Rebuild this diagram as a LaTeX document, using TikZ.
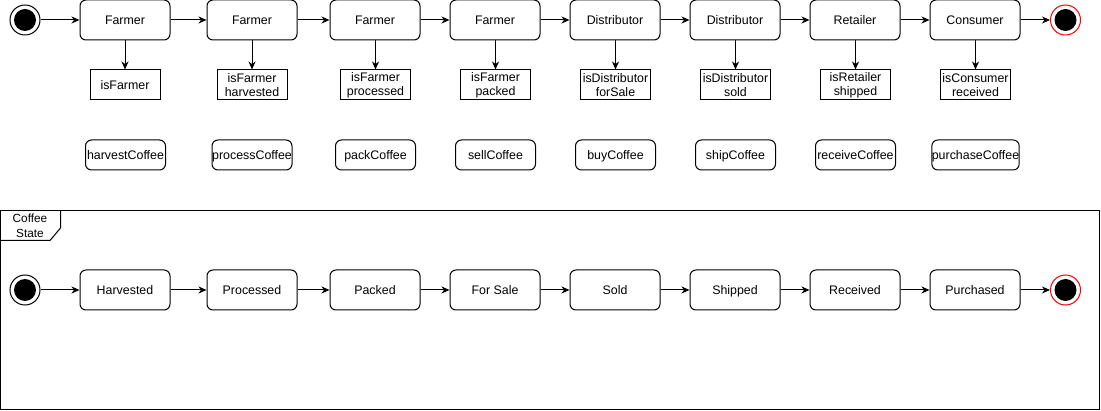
\documentclass[tikz,border=0pt]{standalone}
\usepackage{fontspec}
\setmainfont{Liberation Sans}
\usetikzlibrary{arrows.meta}
\begin{document}
\begin{tikzpicture}[x=1pt,y=-1pt,line width=1pt,
  every node/.style={font=\fontsize{12.4}{14}\selectfont, inner sep=0pt},
  state/.style={draw, rounded corners=6pt, minimum width=90pt, minimum height=40pt, text height=8.9pt, text depth=0pt},
  guard/.style={draw, minimum width=70pt, minimum height=30pt, align=center},
  act/.style={draw, rounded corners=6pt, minimum width=80pt, minimum height=30pt, text height=8.9pt, text depth=0pt},
  arr/.style={-{Stealth[length=8pt,width=7pt,inset=2.5pt]}},
  initring/.style={draw, circle, minimum size=30pt, fill=white},
  finalring/.style={draw=red, circle, minimum size=30pt, fill=white}]
\useasboundingbox (0,0) rectangle (1101,411);
% frame
\draw (0.5,210.5) rectangle (1099.5,409.5);
\draw (0.5,240.5) -- (50,240.5) -- (60.5,228) -- (60.5,210.5);
\node[align=center, font=\fontsize{11.8}{15}\selectfont] (tab) at (30,225.5) {Coffee\\State};

% top row
\node[initring] (s0) at (25,20) {};
\fill[black] (s0.center) circle (11pt);
\node[state] (t1) at (125,20) {Farmer};
\node[state] (t2) at (252,20) {Farmer};
\node[state] (t3) at (375,20) {Farmer};
\node[state] (t4) at (495,20) {Farmer};
\node[state] (t5) at (615,20) {Distributor};
\node[state] (t6) at (735,20) {Distributor};
\node[state] (t7) at (855,20) {Retailer};
\node[state] (t8) at (975,20) {Consumer};
\node[finalring] (e0) at (1065.5,20) {};
\fill[black] (e0.center) circle (11pt);

\draw[arr] (s0) -- (t1);
\draw[arr] (t1) -- (t2);
\draw[arr] (t2) -- (t3);
\draw[arr] (t3) -- (t4);
\draw[arr] (t4) -- (t5);
\draw[arr] (t5) -- (t6);
\draw[arr] (t6) -- (t7);
\draw[arr] (t7) -- (t8);
\draw[arr] (t8) -- (e0);

% guards
\node[guard] (g1) at (125,85) {isFarmer};
\node[guard] (g2) at (252,85) {isFarmer\\harvested};
\node[guard] (g3) at (375.5,85) {isFarmer\\processed};
\node[guard] (g4) at (495.5,85) {isFarmer\\packed};
\node[guard] (g5) at (615.5,85) {isDistributor\\forSale};
\node[guard] (g6) at (735.5,85) {isDistributor\\sold};
\node[guard] (g7) at (855.5,85) {isRetailer\\shipped};
\node[guard] (g8) at (975.5,85) {isConsumer\\received};
\foreach \i in {1,...,8} {\draw[arr] (t\i.south -| g\i) -- (g\i.north);}

% actions
\node[act] (a1) at (125.5,155) {harvestCoffee};
\node[act] (a2) at (252,155) {processCoffee};
\node[act] (a3) at (375.5,155) {packCoffee};
\node[act] (a4) at (495.5,155) {sellCoffee};
\node[act] (a5) at (615.5,155) {buyCoffee};
\node[act] (a6) at (735.5,155) {shipCoffee};
\node[act] (a7) at (855.5,155) {receiveCoffee};
\node[act] (a8) at (975.5,155) {purchaseCoffee};

% bottom row
\node[initring] (s1) at (25,290) {};
\fill[black] (s1.center) circle (11pt);
\node[state] (b1) at (125,290) {Harvested};
\node[state] (b2) at (252,290) {Processed};
\node[state] (b3) at (375,290) {Packed};
\node[state] (b4) at (495,290) {For Sale};
\node[state] (b5) at (615,290) {Sold};
\node[state] (b6) at (735,290) {Shipped};
\node[state] (b7) at (855,290) {Received};
\node[state] (b8) at (975,290) {Purchased};
\node[finalring] (e1) at (1065.5,290) {};
\fill[black] (e1.center) circle (11pt);

\draw[arr] (s1) -- (b1);
\draw[arr] (b1) -- (b2);
\draw[arr] (b2) -- (b3);
\draw[arr] (b3) -- (b4);
\draw[arr] (b4) -- (b5);
\draw[arr] (b5) -- (b6);
\draw[arr] (b6) -- (b7);
\draw[arr] (b7) -- (b8);
\draw[arr] (b8) -- (e1);
\end{tikzpicture}
\end{document}
